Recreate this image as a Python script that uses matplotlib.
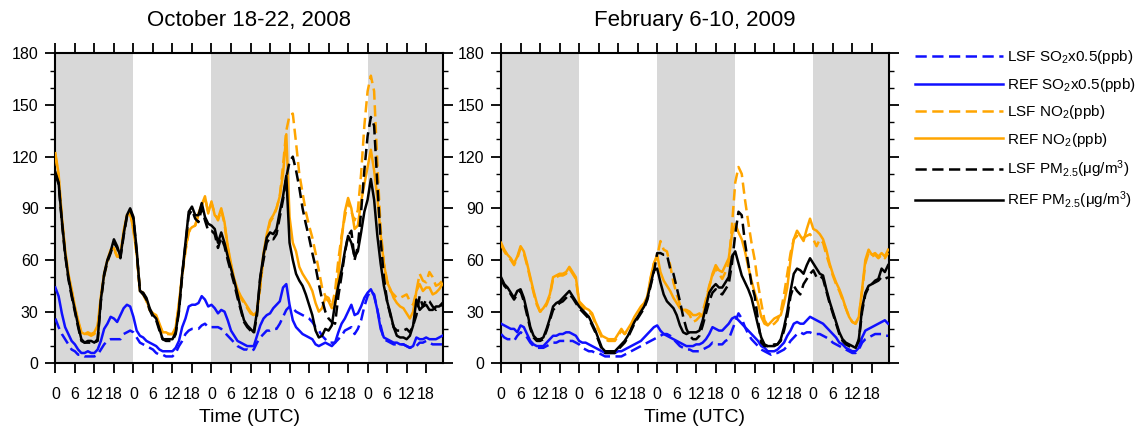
import numpy as np
import matplotlib
matplotlib.use("Agg")
import matplotlib.pyplot as plt
from matplotlib.ticker import MultipleLocator, FixedLocator

plt.rcParams['font.family'] = ['Liberation Sans', 'DejaVu Sans']
plt.rcParams['mathtext.fontset'] = 'custom'
plt.rcParams['mathtext.rm'] = 'Liberation Sans'
plt.rcParams['mathtext.it'] = 'Liberation Sans:italic'
plt.rcParams['mathtext.bf'] = 'Liberation Sans:bold'

# ---------------------------------------------------------------- data
hours = np.arange(120)  # hourly, five days

titles = ["October 18-22, 2008", "February 6-10, 2009"]
day_ticks = ["0", "6", "12", "18"]
xlabel = "Time (UTC)"

# October 18-22, 2008
oct_so2_lsf = [26, 21, 17, 14, 11, 8, 7, 5, 5, 4, 4, 4, 4, 5, 8, 11, 13, 14, 14, 14, 14, 17, 18, 19,
               18, 15, 12, 11, 10, 9, 8, 6, 5, 5, 4, 4, 4, 6, 10, 13, 17, 19, 20, 20, 20, 22, 23, 21,
               21, 21, 21, 20, 18, 16, 14, 12, 10, 9, 8, 8, 7, 8, 12, 15, 17, 19, 19, 20, 20, 23, 27, 31,
               33, 32, 30, 29, 28, 27, 26, 24, 21, 19, 16, 14, 12, 12, 12, 14, 16, 19, 20, 21, 17, 20, 25, 33,
               39, 42, 40, 31, 22, 14, 13, 12, 11, 11, 11, 11, 10, 9, 10, 10, 12, 12, 13, 12, 11, 11, 11, 11]
oct_so2_ref = [44, 39, 29, 21, 17, 13, 11, 8, 6, 6, 7, 6, 6, 8, 13, 20, 23, 27, 26, 24, 28, 32, 34, 33,
               27, 19, 16, 15, 13, 12, 11, 10, 8, 7, 7, 7, 7, 9, 13, 21, 26, 33, 34, 34, 35, 39, 37, 33,
               34, 32, 29, 31, 30, 25, 19, 16, 13, 12, 11, 10, 10, 10, 16, 22, 26, 28, 29, 32, 34, 36, 44, 46,
               34, 25, 21, 19, 17, 16, 15, 14, 11, 10, 11, 12, 11, 10, 12, 18, 23, 26, 30, 34, 28, 29, 33, 38,
               41, 43, 39, 31, 20, 15, 14, 13, 12, 12, 11, 11, 10, 9, 10, 15, 14, 14, 15, 14, 14, 14, 15, 16]
oct_no2_lsf = [121, 108, 84, 65, 51, 42, 32, 24, 18, 17, 17, 16, 17, 21, 38, 51, 59, 65, 66, 62, 62, 76, 85, 87,
               78, 63, 42, 40, 36, 31, 29, 27, 22, 18, 17, 17, 17, 20, 34, 51, 65, 76, 79, 80, 86, 92, 96, 88,
               93, 87, 83, 89, 81, 67, 57, 48, 42, 38, 35, 32, 29, 28, 31, 44, 62, 73, 82, 85, 90, 97, 115, 135,
               144, 145, 128, 110, 99, 88, 80, 73, 64, 54, 44, 39, 38, 33, 42, 60, 74, 85, 94, 88, 83, 89, 110, 138,
               158, 167, 158, 116, 78, 58, 48, 42, 40, 38, 38, 39, 40, 36, 34, 42, 52, 48, 47, 53, 50, 45, 46, 48]
oct_no2_ref = [122, 110, 85, 66, 52, 43, 33, 25, 18, 17, 18, 17, 18, 22, 39, 52, 60, 66, 67, 62, 63, 77, 86, 88,
               77, 64, 42, 41, 37, 31, 29, 28, 23, 18, 18, 17, 17, 21, 35, 52, 66, 77, 79, 80, 87, 92, 97, 87,
               94, 86, 84, 90, 82, 68, 58, 49, 43, 39, 36, 33, 30, 28, 30, 46, 64, 75, 83, 86, 90, 97, 110, 133,
               85, 70, 65, 56, 52, 49, 46, 42, 35, 30, 32, 38, 36, 32, 33, 50, 72, 88, 96, 90, 78, 80, 94, 104,
               114, 124, 112, 96, 75, 58, 47, 43, 38, 35, 33, 32, 29, 26, 30, 42, 46, 42, 44, 44, 40, 41, 43, 46]
oct_pm_lsf = [110, 104, 82, 63, 49, 39, 30, 21, 13, 12, 12, 12, 12, 13, 36, 51, 59, 64, 70, 67, 61, 74, 85, 89,
              84, 65, 42, 40, 37, 31, 27, 25, 19, 14, 13, 13, 13, 17, 30, 51, 69, 86, 89, 84, 82, 90, 83, 77,
              77, 75, 67, 73, 68, 60, 53, 46, 38, 31, 24, 21, 19, 17, 28, 50, 60, 70, 73, 72, 75, 85, 95, 108,
              117, 120, 112, 102, 90, 81, 73, 64, 56, 46, 37, 30, 26, 24, 23, 39, 51, 64, 74, 77, 60, 68, 88, 112,
              132, 143, 138, 104, 72, 50, 36, 28, 21, 19, 19, 19, 20, 18, 22, 28, 39, 33, 37, 36, 33, 31, 33, 34]
oct_pm_ref = [111, 105, 83, 64, 50, 40, 31, 22, 14, 12, 13, 13, 12, 14, 37, 52, 60, 65, 72, 68, 62, 75, 86, 90,
              85, 66, 42, 41, 38, 32, 28, 26, 20, 14, 14, 14, 14, 18, 31, 52, 70, 88, 91, 86, 86, 93, 85, 81,
              80, 78, 70, 76, 70, 62, 55, 48, 40, 32, 25, 22, 20, 18, 30, 50, 63, 73, 76, 75, 78, 88, 97, 109,
              70, 60, 52, 48, 45, 40, 34, 28, 19, 15, 16, 20, 19, 22, 35, 45, 54, 65, 74, 70, 62, 65, 76, 88,
              95, 107, 95, 74, 58, 45, 36, 29, 21, 16, 15, 15, 14, 16, 22, 37, 31, 33, 34, 31, 31, 33, 33, 35]

# February 6-10, 2009
feb_so2_lsf = [17, 15, 14, 14, 13, 16, 18, 17, 15, 12, 10, 9, 9, 9, 10, 11, 12, 12, 13, 13, 13, 13, 13, 12,
               11, 9, 8, 7, 7, 6, 6, 5, 4, 4, 4, 4, 4, 4, 5, 6, 7, 8, 9, 10, 11, 12, 13, 14,
               15, 16, 17, 17, 16, 14, 12, 10, 9, 8, 8, 7, 7, 7, 8, 9, 10, 12, 11, 11, 11, 13, 14, 19,
               24, 29, 26, 21, 17, 14, 12, 10, 8, 7, 6, 5, 6, 6, 7, 8, 10, 13, 15, 17, 18, 17, 18, 18,
               17, 17, 17, 16, 15, 14, 12, 11, 10, 9, 8, 7, 6, 6, 8, 12, 14, 15, 16, 17, 17, 17, 16, 16]
feb_so2_ref = [23, 22, 21, 20, 20, 18, 22, 21, 17, 13, 11, 10, 10, 10, 12, 14, 16, 16, 17, 17, 18, 18, 17, 16,
               13, 12, 12, 11, 10, 9, 8, 7, 6, 6, 6, 6, 7, 7, 8, 9, 10, 11, 12, 13, 15, 17, 19, 21,
               22, 19, 17, 16, 15, 14, 13, 12, 11, 10, 10, 10, 11, 11, 12, 14, 17, 21, 20, 19, 19, 21, 23, 26,
               27, 25, 23, 21, 19, 17, 15, 13, 10, 9, 7, 7, 7, 8, 10, 12, 16, 19, 23, 24, 23, 23, 25, 27,
               26, 25, 24, 23, 21, 19, 17, 15, 12, 11, 9, 8, 7, 7, 9, 15, 19, 20, 21, 22, 23, 24, 25, 23]
feb_no2_lsf = [69, 65, 62, 60, 57, 61, 67, 64, 57, 49, 41, 34, 30, 31, 34, 39, 49, 50, 51, 51, 52, 55, 52, 49,
               35, 33, 31, 30, 28, 23, 19, 15, 14, 13, 13, 13, 16, 19, 17, 19, 22, 26, 29, 32, 34, 38, 49, 58,
               62, 71, 66, 65, 57, 47, 40, 34, 32, 30, 28, 24, 25, 27, 30, 37, 45, 51, 55, 52, 49, 53, 58, 80,
               105, 114, 110, 95, 82, 70, 60, 46, 35, 25, 22, 22, 23, 25, 30, 40, 52, 64, 72, 74, 72, 73, 74, 75,
               72, 68, 72, 70, 63, 57, 51, 46, 42, 37, 32, 27, 24, 23, 27, 42, 58, 64, 62, 63, 61, 63, 61, 64]
feb_no2_ref = [70, 66, 63, 61, 58, 62, 68, 65, 58, 50, 42, 35, 30, 32, 35, 40, 50, 51, 52, 52, 53, 56, 53, 50,
               36, 34, 32, 31, 29, 24, 20, 16, 15, 14, 14, 14, 17, 20, 17, 20, 23, 27, 30, 33, 35, 39, 50, 58,
               63, 53, 48, 45, 42, 38, 35, 32, 31, 31, 30, 28, 28, 29, 27, 36, 44, 52, 57, 54, 53, 57, 61, 75,
               81, 76, 72, 65, 56, 48, 41, 35, 27, 23, 22, 24, 26, 27, 28, 35, 44, 60, 72, 77, 74, 71, 78, 84,
               78, 77, 75, 72, 66, 58, 52, 47, 43, 38, 32, 27, 24, 23, 27, 43, 60, 66, 63, 64, 62, 64, 62, 66]
feb_pm_lsf = [49, 45, 43, 40, 37, 40, 42, 36, 28, 20, 15, 13, 13, 14, 19, 25, 31, 33, 35, 36, 38, 40, 38, 35,
              32, 30, 28, 26, 22, 18, 13, 8, 6, 6, 6, 6, 8, 10, 12, 15, 19, 23, 26, 29, 32, 37, 45, 53,
              64, 64, 63, 63, 55, 52, 44, 36, 27, 20, 16, 14, 14, 16, 22, 29, 36, 41, 43, 41, 40, 43, 46, 58,
              75, 88, 86, 70, 58, 46, 39, 25, 12, 10, 10, 10, 11, 11, 13, 19, 27, 39, 45, 42, 40, 46, 49, 52,
              54, 50, 51, 49, 42, 35, 29, 23, 17, 13, 11, 10, 9, 9, 13, 30, 40, 44, 46, 47, 48, 50, 49, 50]
feb_pm_ref = [50, 46, 44, 41, 38, 42, 43, 38, 30, 21, 16, 14, 14, 15, 20, 26, 33, 35, 36, 38, 40, 42, 39, 36,
              33, 31, 29, 27, 23, 19, 14, 9, 7, 7, 7, 7, 9, 11, 13, 16, 20, 24, 27, 30, 33, 38, 46, 54,
              55, 47, 40, 36, 34, 32, 28, 22, 18, 17, 18, 18, 18, 19, 25, 33, 41, 44, 46, 44, 44, 47, 50, 62,
              65, 58, 51, 47, 43, 38, 30, 22, 15, 11, 10, 10, 10, 11, 14, 21, 30, 42, 52, 55, 54, 52, 57, 61,
              58, 55, 52, 51, 43, 36, 30, 24, 18, 14, 12, 11, 10, 9, 14, 32, 41, 45, 46, 48, 49, 55, 53, 57]

labels = ["LSF SO$_2$x0.5(ppb)", "REF SO$_2$x0.5(ppb)",
          "LSF NO$_2$(ppb)", "REF NO$_2$(ppb)",
          "LSF PM$_{2.5}$(\u03bcg/m$^3$)", "REF PM$_{2.5}$(\u03bcg/m$^3$)"]

panels = [
    [oct_so2_lsf, oct_so2_ref, oct_no2_lsf, oct_no2_ref, oct_pm_lsf, oct_pm_ref],
    [feb_so2_lsf, feb_so2_ref, feb_no2_lsf, feb_no2_ref, feb_pm_lsf, feb_pm_ref],
]

# ---------------------------------------------------------------- style
colors = ["#1010ff", "#1010ff", "#ffa500", "#ffa500", "black", "black"]
dashed = [True, False, True, False, True, False]
shade = "#d8d8d8"
lw = 1.8

fig = plt.figure(figsize=(11.39, 4.32), dpi=100)
ax_w, ax_h = 0.3404, 0.7176
ax_bottom = 0.159
lefts = [0.0486, 0.4399]

handles = None
for i, series in enumerate(panels):
    ax = fig.add_axes([lefts[i], ax_bottom, ax_w, ax_h])
    # alternate day shading
    for d in (0, 2, 4):
        ax.axvspan(24 * d, 24 * (d + 1), color=shade, lw=0, zorder=0)
    lines = []
    for vals, c, ds, lab in zip(series, colors, dashed, labels):
        ln, = ax.plot(hours, vals, color=c, lw=lw, label=lab, zorder=3)
        if ds:
            ln.set_dashes((4.5, 2.2))
        lines.append(ln)
    if handles is None:
        handles = lines

    ax.set_xlim(0, 119.2)
    ax.set_ylim(0, 180)
    ax.set_xticks(np.arange(0, 120, 6))
    ax.set_xticklabels(day_ticks * 5)
    ax.yaxis.set_major_locator(FixedLocator([0, 30, 60, 90, 120, 150, 180]))
    ax.yaxis.set_minor_locator(MultipleLocator(10))
    ax.tick_params(axis='both', which='major', direction='out', length=7, width=1.3,
                   top=True, right=True, labelsize=11.5, pad=5)
    ax.tick_params(axis='y', which='minor', direction='out', length=3.5, width=1.0,
                   left=True, right=True)
    ax.tick_params(axis='x', which='major', pad=10)
    for sp in ax.spines.values():
        sp.set_linewidth(1.5)
    ax.set_xlabel(xlabel, fontsize=14, labelpad=5)
    ax.set_title(titles[i], fontsize=16, pad=20)

fig.legend(handles, labels, loc='upper left', bbox_to_anchor=(0.8033, 0.888),
           frameon=False, fontsize=11, handlelength=5.75, handletextpad=0.3,
           labelspacing=0.62, borderpad=0, borderaxespad=0)

fig.savefig("out.png", dpi=100)
